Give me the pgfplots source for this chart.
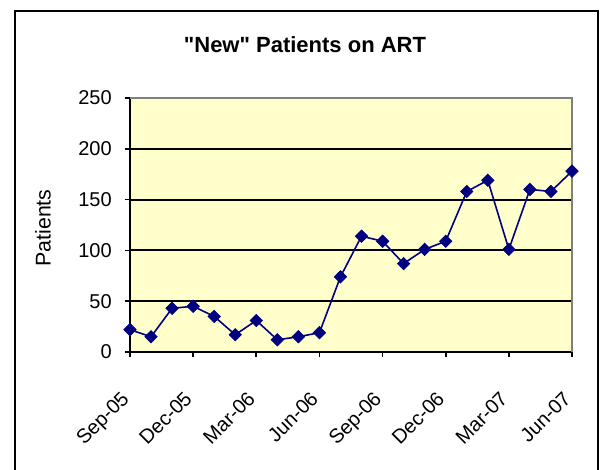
\documentclass[border=0pt]{standalone}
\usepackage{fontspec}
\setmainfont{Liberation Sans}[Ligatures=TeXOff]
\usepackage{pgfplots}
\pgfplotsset{compat=1.18}
\definecolor{plotbg}{HTML}{FFFFCC}
\definecolor{navy}{HTML}{000080}
\definecolor{frame}{HTML}{808080}
\begin{document}
\begin{tikzpicture}
\begin{axis}[
    at={(0,0)}, anchor=south west,
    scale only axis, width=331.5pt, height=190.5pt,
    xmin=0, xmax=21, ymin=0, ymax=250,
    axis lines=left,
    axis line style={-, line width=1.5pt, black},
    axis background/.style={fill=plotbg},
    xtick={0,3,...,21},
    xticklabels={Sep-05,Dec-05,Mar-06,Jun-06,Sep-06,Dec-06,Mar-07,Jun-07},
    ytick={0,50,...,250},
    tick align=outside, major tick length=3.75pt,
    tick style={black, line width=1.2pt},
    ymajorgrids, grid style={black, line width=1.4pt},
    tick label style={font=\fontsize{15}{18}\selectfont},
    /pgf/number format/assume math mode=true,
    yticklabel style={anchor=east, inner sep=0pt, xshift=-9.75pt},
    xticklabel style={xshift=-7.5pt, yshift=-24.75pt, rotate=45, anchor=north east, inner sep=0pt},
    clip=false,
]
\addplot[navy, line width=1.2pt, mark=square*, mark size=3.3pt,
    mark options={rotate=45, fill=navy, draw=navy, line width=0.5pt}]
    coordinates {
    (0,22) (1,15) (2,43) (3,45) (4,35) (5,17) (6,31) (7,12) (8,15) (9,19) (10,74)
    (11,114) (12,109) (13,87) (14,101) (15,109) (16,158) (17,169) (18,101) (19,160)
    (20,158) (21,178)
    };
\draw[frame, line width=1.5pt] (rel axis cs:0,1) -- (rel axis cs:1,1) -- (rel axis cs:1,0);
\end{axis}
\draw[black, line width=1.5pt] (-86.25pt,-100pt) -- (-86.25pt,256.1pt) -- (351pt,256.1pt) -- (351pt,-100pt);
\node[font=\bfseries\fontsize{16.5}{20}\selectfont] at (131.25pt,230.25pt) {"New" Patients on ART};
\node[rotate=90, font=\fontsize{16}{19}\selectfont] at (-65.25pt,93pt) {Patients};
\pgfresetboundingbox
\path[use as bounding box] (-97.5pt,-88.5pt) rectangle (352.5pt,264pt);
\end{tikzpicture}
\end{document}
